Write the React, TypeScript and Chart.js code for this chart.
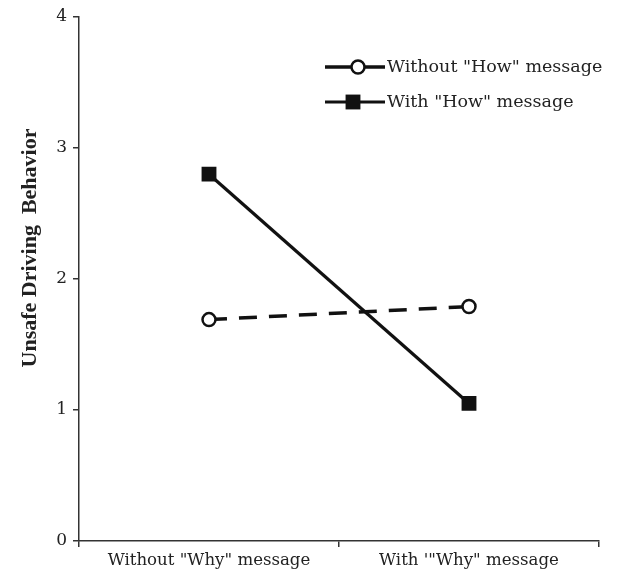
import React, { useEffect, useRef } from "react";
import { Chart, registerables } from "chart.js";

Chart.register(...registerables);

const categories = ['Without "Why" message', 'With \'"Why" message'];
const seriesNames = ['Without "How" message', 'With "How" message'];
const withoutHow = [1.69, 1.79];
const withHow = [2.8, 1.05];
const yTicks = [0, 1, 2, 3, 4];
const yTitle = "Unsafe Driving  Behavior";

const TEXT = "#222";
const FONT = "'DejaVu Serif', serif";

const legendPlugin = {
  id: "customLegend",
  afterDraw(chart: any) {
    const { ctx, chartArea } = chart;
    const x0 = chartArea.left + 246;
    const lineLen = 60;
    const rows = [chartArea.top + 50, chartArea.top + 85];
    chart.data.datasets.forEach((ds: any, i: number) => {
      const y = rows[i];
      ctx.save();
      ctx.strokeStyle = ds.borderColor;
      ctx.lineWidth = ds.borderWidth;
      ctx.setLineDash([]);
      ctx.beginPath();
      ctx.moveTo(x0, y);
      ctx.lineTo(x0 + lineLen, y);
      ctx.stroke();
      const cx = x0 + (i === 0 ? 33 : 28);
      if (ds.pointStyle === "circle") {
        ctx.beginPath();
        ctx.arc(cx, y, ds.pointRadius, 0, Math.PI * 2);
        ctx.fillStyle = ds.pointBackgroundColor;
        ctx.fill();
        ctx.lineWidth = ds.pointBorderWidth;
        ctx.strokeStyle = ds.pointBorderColor;
        ctx.stroke();
      } else {
        const s = ds.pointRadius * Math.SQRT1_2;
        ctx.fillStyle = ds.pointBackgroundColor;
        ctx.fillRect(cx - s, y - s, 2 * s, 2 * s);
      }
      ctx.fillStyle = TEXT;
      ctx.font = `17.5px ${FONT}`;
      ctx.textBaseline = "middle";
      ctx.textAlign = "left";
      ctx.fillText(ds.label, x0 + lineLen + 2, y);
      ctx.restore();
    });
  },
};

const titlePlugin = {
  id: "yTitle",
  afterDraw(chart: any) {
    const { ctx, chartArea } = chart;
    ctx.save();
    ctx.translate(chartArea.left - 49, chartArea.top + 231);
    ctx.rotate(-Math.PI / 2);
    ctx.font = "bold 22px 'Liberation Serif', serif";
    ctx.fillStyle = TEXT;
    ctx.textAlign = "center";
    ctx.textBaseline = "middle";
    ctx.fillText(yTitle, 0, 0);
    ctx.restore();
  },
};

export default function App() {
  const ref = useRef<HTMLCanvasElement | null>(null);
  useEffect(() => {
    if (!ref.current) return;
    const chart = new Chart(ref.current, {
      type: "line",
      data: {
        labels: categories,
        datasets: [
          {
            label: seriesNames[0],
            data: withoutHow,
            borderColor: "#111",
            borderWidth: 3.5,
            borderDash: [18, 12],
            pointStyle: "circle",
            pointRadius: 6.5,
            pointBorderWidth: 2.5,
            pointBorderColor: "#111",
            pointBackgroundColor: "#fff",
            fill: false,
          },
          {
            label: seriesNames[1],
            data: withHow,
            borderColor: "#111",
            borderWidth: 3.2,
            pointStyle: "rect",
            pointRadius: 10.5,
            pointBorderWidth: 0,
            pointBorderColor: "#111",
            pointBackgroundColor: "#111",
            fill: false,
          },
        ],
      },
      options: {
        animation: false,
        responsive: true,
        maintainAspectRatio: false,
        layout: { padding: { left: 0, top: 17, right: 40, bottom: 0 } },
        plugins: { legend: { display: false }, tooltip: { enabled: false }, title: { display: false } },
        scales: {
          x: {
            type: "category",
            offset: true,
            grid: {
              offset: true,
              drawOnChartArea: false,
              drawTicks: true,
              tickLength: 6,
              color: "#333",
              lineWidth: 1.5,
            },
            border: { display: true, color: "#333", width: 1.5 },
            ticks: { color: TEXT, font: { family: FONT, size: 16.6 }, padding: 4, maxRotation: 0, autoSkip: false },
            afterFit(scale: any) {
              scale.height = 39;
            },
          },
          y: {
            type: "linear",
            min: 0,
            max: 4,
            afterBuildTicks(scale: any) {
              scale.ticks = yTicks.map((v) => ({ value: v }));
            },
            grid: {
              drawOnChartArea: false,
              drawTicks: true,
              tickLength: 6,
              color: "#333",
              lineWidth: 1.5,
            },
            border: { display: true, color: "#333", width: 1.5 },
            ticks: { color: TEXT, font: { family: FONT, size: 17 }, padding: 6 },
            afterFit(scale: any) {
              scale.width = 79;
            },
          },
        },
      },
      plugins: [legendPlugin, titlePlugin],
    });
    return () => chart.destroy();
  }, []);
  return (
    <div style={{ position: "fixed", left: 0, top: 0, width: 639, height: 580, background: "#fff" }}>
      <canvas ref={ref} />
    </div>
  );
}
